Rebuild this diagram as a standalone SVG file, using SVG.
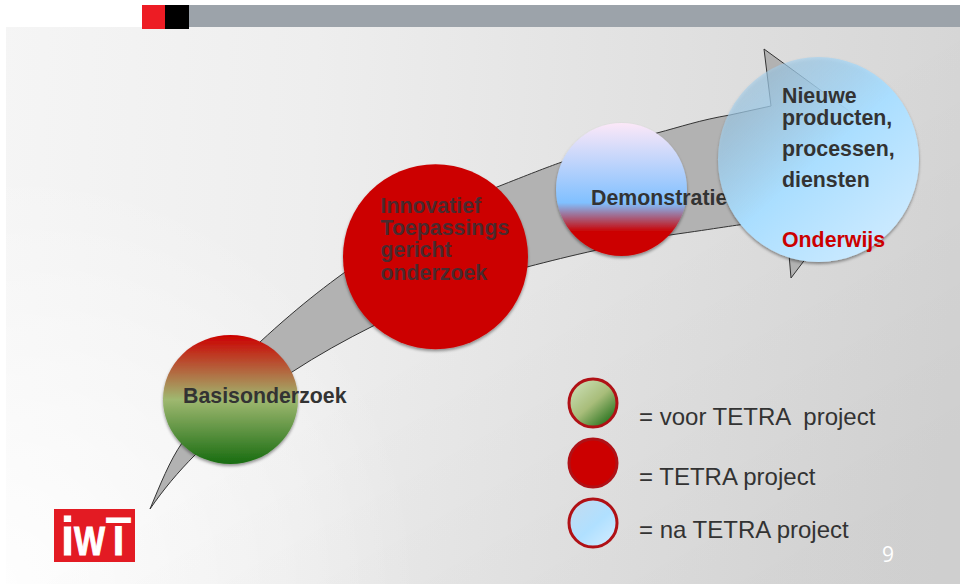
<svg xmlns="http://www.w3.org/2000/svg" width="960" height="584" viewBox="0 0 960 584">
<style>
.b{font-family:"Liberation Sans",Arial,sans-serif;font-weight:700;font-size:21.33px;fill:#333}
.l{font-family:"Liberation Sans",Arial,sans-serif;font-size:24px;fill:#333}
.w{font-family:"Liberation Sans",Arial,sans-serif;font-weight:700;fill:#fff;stroke:#fff;stroke-width:1}
.leg{stroke:#b01116;stroke-width:3}
</style>
<defs>
<linearGradient id="bg" gradientUnits="userSpaceOnUse" x1="0" y1="0" x2="960" y2="40">
<stop offset="0" stop-color="#f5f5f5"/><stop offset=".33" stop-color="#eeeeee"/><stop offset=".6" stop-color="#e4e4e4"/><stop offset="1" stop-color="#d6d6d6"/>
</linearGradient>
<radialGradient id="bgl" gradientUnits="userSpaceOnUse" cx="0" cy="584" r="420">
<stop offset="0" stop-color="#fff" stop-opacity=".9"/><stop offset="1" stop-color="#fff" stop-opacity="0"/>
</radialGradient>
<linearGradient id="bgd" gradientUnits="userSpaceOnUse" x1="560" y1="250" x2="760" y2="584">
<stop offset="0" stop-color="#000" stop-opacity="0"/><stop offset="1" stop-color="#000" stop-opacity=".035"/>
</linearGradient>
<linearGradient id="g1" x1="0" y1="0" x2="0" y2="1">
<stop offset="0" stop-color="#c00"/><stop offset=".5" stop-color="#9fb870"/><stop offset="1" stop-color="#186c10"/>
</linearGradient>
<linearGradient id="g2" x1="0" y1="0" x2="0" y2="1">
<stop offset="0" stop-color="#fce8f8"/><stop offset=".6" stop-color="#80c0ff"/><stop offset=".82" stop-color="#c00"/><stop offset="1" stop-color="#c00"/>
</linearGradient>
<linearGradient id="g3" x1=".15" y1=".1" x2=".85" y2=".9">
<stop offset="0" stop-color="#a2cdea" stop-opacity=".55"/><stop offset=".5" stop-color="#aadeff"/><stop offset="1" stop-color="#cceaff"/>
</linearGradient>
<linearGradient id="g4" x1=".15" y1=".1" x2=".85" y2=".9">
<stop offset="0" stop-color="#c8dcb0"/><stop offset=".5" stop-color="#a8bd7a"/><stop offset="1" stop-color="#2a7420"/>
</linearGradient>
<linearGradient id="g5" x1=".15" y1=".1" x2=".85" y2=".9">
<stop offset="0" stop-color="#c0dcf2"/><stop offset=".55" stop-color="#b0e0ff"/><stop offset="1" stop-color="#cceaff"/>
</linearGradient>
<filter id="sh" x="-10%" y="-10%" width="120%" height="120%"><feDropShadow dx="0" dy="2" stdDeviation="1.500" flood-color="#000" flood-opacity=".4"/></filter>
</defs>
<g id="background">
<rect width="960" height="584" fill="#fff"/>
<rect x="6" y="27" width="954" height="557" fill="url(#bg)"/>
<rect x="6" y="27" width="954" height="557" fill="url(#bgl)"/>
<rect x="6" y="27" width="954" height="557" fill="url(#bgd)"/>
<rect x="189" y="5" width="771" height="22" fill="#9ca3aa"/>
<rect x="142" y="5" width="23" height="24" fill="#ed1c24"/>
<rect x="165" y="5" width="24" height="24" fill="#000"/>
</g>
<g id="connectors">
<path d="M150 509 C160 485 170 460 182 443 C205 405 235 368 260 342 C300 305 335 278 370 255 C410 228 455 206 497 187 C530 174 545 168 562 162 C595 150 625 141 657 133 C680 127 700 120 730 115 L771 106 L764 49 L893 143 L791 278 L786 219 C770 221 760 222 755 223 C735 225 720 228 670 235 C640 240 620 245 597 250 C570 256 550 261 527 267 C470 285 420 303 373 326 C345 340 318 355 292 372 C255 397 225 425 195 455 C178 472 163 490 150 509 Z" fill="#b2b2b2" stroke="#333" stroke-width="1"/>
</g>
<g id="node-basis">
<ellipse cx="230.500" cy="399.500" rx="67.500" ry="64.500" fill="url(#g1)" filter="url(#sh)"/>
<text class="b" x="183" y="403">Basisonderzoek</text>
</g>
<g id="node-innovatief">
<circle cx="435.500" cy="256.700" r="92.500" fill="#c00" filter="url(#sh)"/>
<text class="b" style="fill:#4a2a2e" x="380.500" y="213">Innovatief</text>
<text class="b" style="fill:#4a2a2e" x="380.500" y="235">Toepassings</text>
<text class="b" style="fill:#4a2a2e" x="380.500" y="257">gericht</text>
<text class="b" style="fill:#4a2a2e" x="380.500" y="280">onderzoek</text>
</g>
<g id="node-demonstratie">
<ellipse cx="621.500" cy="189.500" rx="65.500" ry="66.500" fill="url(#g2)" filter="url(#sh)"/>
<text class="b" x="591" y="205">Demonstratie</text>
</g>
<g id="node-nieuwe">
<ellipse cx="818.500" cy="159.500" rx="100.500" ry="102.500" fill="url(#g3)" filter="url(#sh)"/>
<text class="b" x="782" y="103">Nieuwe</text>
<text class="b" x="782" y="125">producten,</text>
<text class="b" x="782" y="156">processen,</text>
<text class="b" x="782" y="187">diensten</text>
<text class="b" style="fill:#c00" x="782" y="247">Onderwijs</text>
</g>
<g id="legend-voor">
<circle class="leg" cx="593" cy="403" r="24" fill="url(#g4)"/>
<text class="l" x="639" y="425" xml:space="preserve">= voor TETRA  project</text>
</g>
<g id="legend-tetra">
<circle class="leg" cx="593" cy="463" r="24" fill="#c00"/>
<text class="l" x="639" y="485">= TETRA project</text>
</g>
<g id="legend-na">
<circle class="leg" cx="593" cy="523" r="24" fill="url(#g5)"/>
<text class="l" x="639" y="538">= na TETRA project</text>
</g>
<g id="logo">
<rect x="54" y="509" width="81" height="53" fill="#e31b23"/>
<text class="w" x="61" y="555" font-size="54" textLength="13" lengthAdjust="spacingAndGlyphs">i</text>
<text class="w" x="74" y="555" font-size="40" textLength="31" lengthAdjust="spacingAndGlyphs">W</text>
<text class="w" x="106" y="555" font-size="54" textLength="25" lengthAdjust="spacingAndGlyphs">T</text>
<rect x="100" y="523" width="32" height="3" fill="#e31b23"/>
<rect x="60" y="523" width="16" height="3" fill="#e31b23"/>
</g>
<text id="page-number" x="882" y="562" font-family="'Open Sans',sans-serif" font-size="21" fill="#fff">9</text>
</svg>
